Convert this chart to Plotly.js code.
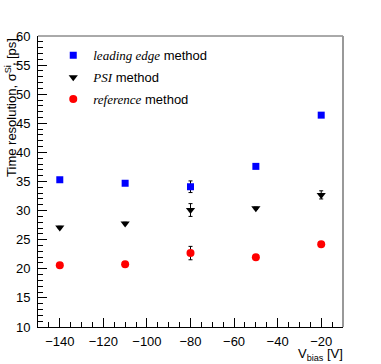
<!DOCTYPE html>
<html>
<head>
<meta charset="utf-8">
<script src="https://cdn.plot.ly/plotly-3.0.1.min.js"></script>
<style>
  html, body { margin: 0; padding: 0; background: #fff; }
  #chart { width: 381px; height: 364px; }
</style>
</head>
<body>
<div id="chart"></div>
<script>
// bias voltages [V]
var vbias = [-140, -110, -80, -50, -20];

// time resolution [ps] per method
var leadingEdge = [35.3, 34.7, 34.1, 37.6, 46.4];
var leadingEdgeErr = [0.2, 0.2, 1.0, 0.2, 0.2];
var psi = [27.1, 27.8, 30.1, 30.4, 32.7];
var psiErr = [0.2, 0.2, 1.1, 0.2, 0.7];
var reference = [20.6, 20.8, 22.7, 22.0, 24.2];
var referenceErr = [0.2, 0.2, 1.15, 0.2, 0.2];

var names = [
  "<span style='font-family:Liberation Serif'><i>leading edge</i></span> method",
  "<span style='font-family:Liberation Serif'><i>PSI</i></span> method",
  "<span style='font-family:Liberation Serif'><i>reference</i></span> method"
];

function series(y, err, name, color, symbol, size, group) {
  return {
    x: vbias,
    y: y,
    type: 'scatter',
    mode: 'markers',
    name: name,
    legendgroup: group,
    marker: { color: color, symbol: symbol, size: size },
    error_y: { type: 'data', array: err, visible: true, color: '#000', thickness: 1, width: 2 }
  };
}

var data = [
  series(leadingEdge, leadingEdgeErr, names[0], '#0000ff', 'square', 7, 'a'),
  series(psi, psiErr, names[1], '#000000', 'triangle-down', 8, 'b'),
  series(reference, referenceErr, names[2], '#ff0000', 'circle', 8, 'c')
];

var axisFont = { family: 'Liberation Sans, Arial, sans-serif', size: 13, color: '#000' };

var layout = {
  width: 381,
  height: 364,
  margin: { l: 38, r: 38, t: 36, b: 37 },
  paper_bgcolor: '#fff',
  plot_bgcolor: '#fff',
  font: axisFont,
  showlegend: true,
  legend: {
    x: 0.05, y: 0.985, xanchor: 'left', yanchor: 'top',
    bgcolor: 'rgba(0,0,0,0)', borderwidth: 0,
    font: { family: 'Liberation Sans, Arial, sans-serif', size: 13, color: '#000' },
    itemwidth: 30,
    tracegroupgap: 2
  },
  xaxis: {
    range: [-150, -10],
    tickvals: [-140, -120, -100, -80, -60, -40, -20],
    ticktext: ['\u2212140', '\u2212120', '\u2212100', '\u221280', '\u221260', '\u221240', '\u221220'],
    ticks: 'inside', ticklen: 9, tickcolor: '#000', tickwidth: 1,
    ticklabelstandoff: 2,
    minor: { dtick: 5, tick0: -150, ticks: 'inside', ticklen: 5, tickcolor: '#000', showgrid: false },
    showgrid: false, zeroline: false,
    showline: true, linecolor: '#000', linewidth: 1, mirror: false,
    tickfont: axisFont
  },
  yaxis: {
    range: [10, 60],
    tickvals: [10, 15, 20, 25, 30, 35, 40, 45, 50, 55, 60],
    ticks: 'inside', ticklen: 9, tickcolor: '#000', tickwidth: 1,
    ticklabelstandoff: 4,
    minor: { dtick: 1, tick0: 10, ticks: 'inside', ticklen: 5, tickcolor: '#000', showgrid: false },
    showgrid: false, zeroline: false,
    showline: true, linecolor: '#000', linewidth: 1, mirror: false,
    tickfont: axisFont
  },
  shapes: [
    { type: 'line', xref: 'paper', yref: 'paper', x0: 0, x1: 1, y0: 1, y1: 1, line: { color: '#555', width: 1 } },
    { type: 'line', xref: 'paper', yref: 'paper', x0: 1, x1: 1, y0: 0, y1: 1, line: { color: '#999', width: 2 } }
  ],
  annotations: [
    {
      text: 'Time resolution, \u03c3<sup>Si</sup><sub>t</sub> [ps]',
      xref: 'paper', yref: 'paper', x: -0.087, y: 1.0,
      xanchor: 'center', yanchor: 'top', textangle: -90, showarrow: false,
      font: axisFont
    },
    {
      text: 'V<sub>bias</sub> [V]',
      xref: 'paper', yref: 'paper', x: 1.005, y: -0.058,
      xanchor: 'right', yanchor: 'top', showarrow: false,
      font: axisFont
    }
  ]
};

Plotly.newPlot('chart', data, layout, { displayModeBar: false, staticPlot: true });
</script>
</body>
</html>
